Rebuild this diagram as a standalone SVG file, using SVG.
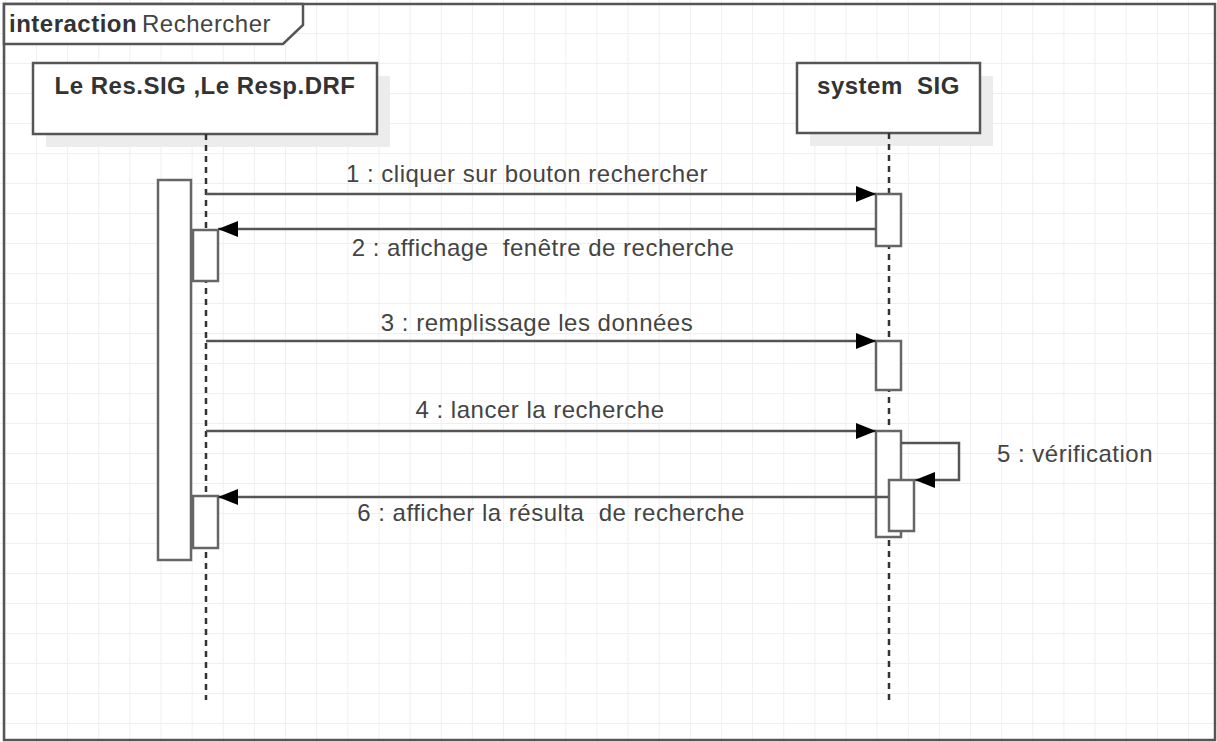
<svg xmlns="http://www.w3.org/2000/svg" width="1217" height="742" viewBox="0 0 1217 742">
  <style>
    text { white-space: pre; letter-spacing: 0.5px; }
    .name { font-family: "Liberation Sans", Arial, sans-serif; font-size: 24px; font-weight: bold; fill: #333; text-anchor: middle; }
    .msg { font-family: "Liberation Sans", Arial, sans-serif; font-size: 24px; fill: #444; }
    .mid { text-anchor: middle; }
    .head { fill: #fff; stroke: #555; stroke-width: 2.5; }
    .shadow { fill: #ececec; }
    .life { stroke: #333; stroke-width: 2.5; stroke-dasharray: 6 5; fill: none; }
    .act { fill: #fff; stroke: #666; stroke-width: 2.5; }
    .line { stroke: #555; stroke-width: 2.5; fill: none; }
  </style>
  <defs>
    <pattern id="grid" x="36" y="3" width="31.135" height="30" patternUnits="userSpaceOnUse">
      <path d="M0,0 V30 M0,0 H31.135" stroke="#efefef" stroke-width="2" fill="none"/>
    </pattern>
    <marker id="arrow" viewBox="0 0 20 16" refX="20" refY="8" markerWidth="20" markerHeight="16" markerUnits="userSpaceOnUse" orient="auto">
      <path d="M0,0 L20,8 L0,16 Z" fill="#000"/>
    </marker>
  </defs>

  <!-- background and grid -->
  <rect x="0" y="0" width="1217" height="742" fill="#fff"/>
  <rect x="0" y="0" width="1217" height="742" fill="url(#grid)"/>

  <!-- interaction frame -->
  <g id="frame">
    <rect x="4" y="4" width="1211" height="736" fill="none" stroke="#555" stroke-width="2.5"/>
    <path d="M4,4 H303 V25 L283,44 H4 Z" fill="#fff" stroke="#555" stroke-width="2.5"/>
    <text x="9" y="32" class="msg" style="font-weight:bold;fill:#333">interaction</text>
    <text x="142" y="32" class="msg">Rechercher</text>
  </g>

  <!-- lifeline: user -->
  <g id="lifeline-user">
    <rect x="46" y="76" width="344" height="71" class="shadow"/>
    <rect x="33" y="63" width="344" height="71" class="head"/>
    <text x="205" y="94" class="name">Le Res.SIG ,Le Resp.DRF</text>
    <line x1="206" y1="134" x2="206" y2="700" class="life"/>
    <rect x="158" y="180" width="33" height="380" class="act"/>
    <rect x="193" y="230" width="25" height="51" class="act"/>
    <rect x="193" y="496" width="25" height="52" class="act"/>
  </g>

  <!-- lifeline: system -->
  <g id="lifeline-system">
    <rect x="810" y="76" width="183" height="70" class="shadow"/>
    <rect x="797" y="63" width="183" height="70" class="head"/>
    <text x="888.5" y="94" class="name">system  SIG</text>
    <line x1="889" y1="133" x2="889" y2="700" class="life"/>
    <rect x="876" y="194" width="25" height="52" class="act"/>
    <rect x="876" y="341" width="25" height="49" class="act"/>
    <rect x="876" y="431" width="25" height="106" class="act"/>
  </g>

  <!-- messages -->
  <g id="messages">
    <line x1="206" y1="194" x2="876" y2="194" class="line" marker-end="url(#arrow)"/>
    <text x="527" y="182" class="msg mid">1 : cliquer sur bouton rechercher</text>

    <line x1="876" y1="229" x2="218" y2="229" class="line" marker-end="url(#arrow)"/>
    <text x="543" y="256" class="msg mid">2 : affichage  fenêtre de recherche</text>

    <line x1="206" y1="341" x2="876" y2="341" class="line" marker-end="url(#arrow)"/>
    <text x="537" y="331" class="msg mid">3 : remplissage les données</text>

    <line x1="206" y1="431" x2="876" y2="431" class="line" marker-end="url(#arrow)"/>
    <text x="540" y="418" class="msg mid">4 : lancer la recherche</text>

    <polyline points="901,443 959,443 959,480 915,480" class="line" marker-end="url(#arrow)"/>
    <text x="997" y="462" class="msg">5 : vérification</text>

    <line x1="889" y1="497" x2="218" y2="497" class="line" marker-end="url(#arrow)"/>
    <text x="551" y="521" class="msg mid">6 : afficher la résulta  de recherche</text>
  </g>

  <!-- nested activation for the self call -->
  <g id="activation-self">
    <rect x="889" y="480" width="25" height="51" class="act"/>
  </g>
</svg>
